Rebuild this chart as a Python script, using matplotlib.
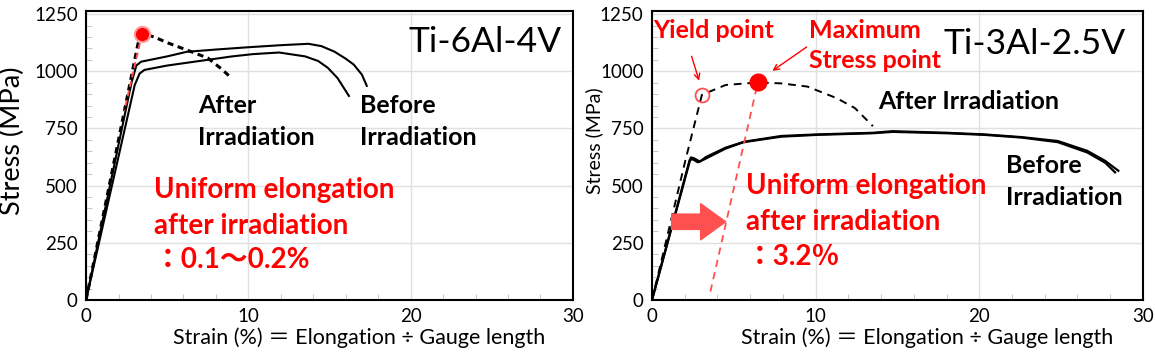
import numpy as np
import matplotlib.pyplot as plt
from matplotlib.ticker import MultipleLocator

plt.rcParams['font.family'] = ['Lato', 'Noto Sans CJK JP', 'DejaVu Sans']

# Ti-6Al-4V (left panel)
ti64_before1_strain = [0, 2.8, 3.1, 3.4, 5.0, 6.2, 8.0, 10.0, 12.0, 13.7, 14.5, 15.3, 16.0, 16.5, 17.0, 17.3]
ti64_before1_stress = [0, 950, 1025, 1042, 1065, 1085, 1095, 1105, 1114, 1120, 1110, 1086, 1055, 1029, 985, 936]
ti64_before2_strain = [0, 3.0, 3.3, 3.6, 5.0, 7.0, 9.0, 10.3, 11.9, 13.5, 14.3, 14.9, 15.5, 16.2]
ti64_before2_stress = [0, 940, 990, 1006, 1025, 1045, 1065, 1075, 1082, 1065, 1045, 1015, 970, 892]
ti64_after_strain = [0, 3.2, 3.45, 4.2, 5.0, 6.24, 7.5, 8.4, 8.9]
ti64_after_stress = [0, 1120, 1164, 1150, 1125, 1092, 1058, 1007, 974]
ti64_max = (3.45, 1164)
ti64_offset_strain = [3.45, 2.36]
ti64_offset_stress = [1164, 828]

# Ti-3Al-2.5V (right panel)
ti3_before1_strain = [0, 2.37, 2.55, 2.93, 3.3, 4.5, 5.64, 7.9, 10.15, 13.5, 14.7, 18.0, 20.3, 22.6, 24.8, 26.6, 27.7, 28.5]
ti3_before1_stress = [0, 623, 620, 605, 625, 666, 692, 717, 724, 731, 738, 731, 724, 712, 695, 652, 608, 565]
ti3_before2_strain = [0, 2.3, 2.5, 2.8, 3.2, 4.5, 5.6, 7.9, 10.1, 13.5, 14.7, 18.0, 20.3, 22.6, 24.8, 26.6, 27.7, 28.3]
ti3_before2_stress = [0, 612, 615, 602, 615, 662, 690, 714, 722, 729, 735, 729, 722, 710, 690, 645, 600, 558]
ti3_after_strain = [0, 2.03, 3.05, 4.5, 6.47, 7.9, 9.5, 11.3, 12.4, 13.5]
ti3_after_stress = [0, 607, 897, 940, 951, 947, 933, 882, 839, 760]
ti3_yield = (3.05, 897)
ti3_max = (6.47, 951)
ti3_offset_strain = [6.4, 3.55]
ti3_offset_stress = [930, 30]

RED = '#ff0000'
xlabel = 'Strain (%) ＝ Elongation ÷ Gauge length'

fig = plt.figure(figsize=(11.55, 3.55), dpi=100)
ax1 = fig.add_axes([0.0745, 0.155, 0.4215, 0.815])
ax2 = fig.add_axes([0.5645, 0.155, 0.425, 0.815])

for ax in (ax1, ax2):
    ax.set_xlim(0, 30)
    ax.set_ylim(0, 1265)
    ax.xaxis.set_major_locator(MultipleLocator(10))
    ax.yaxis.set_major_locator(MultipleLocator(250))
    ax.xaxis.set_minor_locator(MultipleLocator(2))
    ax.yaxis.set_minor_locator(MultipleLocator(50))
    ax.grid(True, which='major', color='#e0e0e0', lw=1)
    ax.tick_params(which='both', direction='in', labelsize=13.5, length=4, color='#bbbbbb')
    ax.tick_params(which='major', length=0, pad=6)
    for sp in ax.spines.values():
        sp.set_linewidth(1.5)
    ax.set_axisbelow(True)
    ax.set_xlabel(xlabel, fontsize=15.5, labelpad=0)
    ax.xaxis.set_label_coords(0.56, -0.095)

ax1.set_ylabel('Stress (MPa)', fontsize=19.5, labelpad=0)
ax1.yaxis.set_label_coords(-0.125, 0.55)
ax2.set_ylabel('Stress (MPa)', fontsize=14, labelpad=0)
ax2.yaxis.set_label_coords(-0.1, 0.55)

# left panel
ax1.plot(ti64_before1_strain, ti64_before1_stress, color='black', lw=1.5)
ax1.plot(ti64_before2_strain, ti64_before2_stress, color='black', lw=1.5)
ax1.plot(ti64_after_strain, ti64_after_stress, color='black', lw=2.2, ls=(0, (2, 1.5)))
ax1.plot(ti64_offset_strain, ti64_offset_stress, color='#ff5050', lw=1.4, ls=(0, (3, 2)))
ax1.plot(*ti64_max, 'o', color=RED, ms=11, mec='#ff9a9a', mew=1.5)

ax1.text(19.9, 1128, 'Ti-6Al-4V', fontsize=25.5, va='center')
ax1.text(6.9, 851, 'After', fontsize=18, fontweight='bold', va='center')
ax1.text(6.9, 712, 'Irradiation', fontsize=18, fontweight='bold', va='center')
ax1.text(16.9, 851, 'Before', fontsize=18, fontweight='bold', va='center')
ax1.text(16.9, 712, 'Irradiation', fontsize=18, fontweight='bold', va='center')
ax1.text(4.2, 482, 'Uniform elongation', fontsize=20, fontweight='bold', color=RED, va='center')
ax1.text(4.2, 325, 'after irradiation', fontsize=20, fontweight='bold', color=RED, va='center')
ax1.text(4.2, 174, '：0.1～0.2%', fontsize=20, fontweight='bold', color=RED, va='center')

# right panel
ax2.plot(ti3_before1_strain, ti3_before1_stress, color='black', lw=1.6)
ax2.plot(ti3_before2_strain, ti3_before2_stress, color='black', lw=1.6)
ax2.plot(ti3_after_strain, ti3_after_stress, color='black', lw=1.4, ls=(0, (4, 3)))
ax2.plot(ti3_offset_strain, ti3_offset_stress, color='#ff5050', lw=1.3, ls=(0, (4, 3)))
ax2.plot(*ti3_yield, 'o', mfc='none', mec='#ff5050', ms=10, mew=1.3)
ax2.plot(*ti3_max, 'o', color=RED, ms=12)

ax2.annotate('', xy=(2.93, 947), xytext=(2.37, 1077),
             arrowprops=dict(arrowstyle='->', color=RED, lw=1))
ax2.annotate('', xy=(7.22, 995), xytext=(9.59, 1113),
             arrowprops=dict(arrowstyle='->', color=RED, lw=1))
ax2.annotate('', xy=(4.5, 342), xytext=(1.2, 342),
             arrowprops=dict(arrowstyle='simple,head_length=0.9,head_width=1.3,tail_width=0.55',
                             color='#ff5050', mutation_scale=20, shrinkA=0, shrinkB=0))

ax2.text(0.05, 1180, 'Yield point', fontsize=18, fontweight='bold', color=RED, va='center')
ax2.text(9.6, 1180, 'Maximum', fontsize=18, fontweight='bold', color=RED, va='center')
ax2.text(9.6, 1045, 'Stress point', fontsize=18, fontweight='bold', color=RED, va='center')
ax2.text(17.8, 1119, 'Ti-3Al-2.5V', fontsize=25.5, va='center')
ax2.text(13.8, 868, 'After Irradiation', fontsize=18, fontweight='bold', va='center')
ax2.text(21.65, 588, 'Before', fontsize=18, fontweight='bold', va='center')
ax2.text(21.65, 449, 'Irradiation', fontsize=18, fontweight='bold', va='center')
ax2.text(5.75, 500, 'Uniform elongation', fontsize=20, fontweight='bold', color=RED, va='center')
ax2.text(5.75, 342, 'after irradiation', fontsize=20, fontweight='bold', color=RED, va='center')
ax2.text(5.75, 190, '：3.2％', fontsize=20, fontweight='bold', color=RED, va='center')

fig.savefig('out.png', dpi=100)
